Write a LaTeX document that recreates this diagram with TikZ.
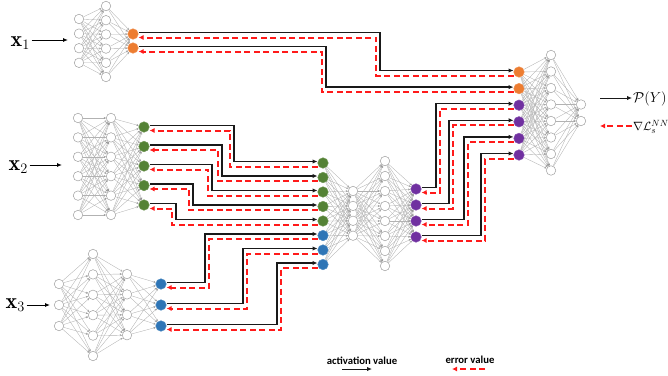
\documentclass[tikz,border=0pt]{standalone}
\usepackage{amsmath}
\usepackage{amssymb}
\usepackage{fontspec}
\newfontfamily\legendfont{Carlito}
\usetikzlibrary{arrows.meta}
\definecolor{nnorange}{HTML}{ED7D31}
\definecolor{nngreen}{HTML}{548235}
\definecolor{nnblue}{HTML}{2E75B6}
\definecolor{nnpurple}{HTML}{7030A0}
\definecolor{errred}{HTML}{FF1A1A}

\begin{document}
\begin{tikzpicture}[x=1pt, y=-1pt,
		neuron/.style={circle, draw=gray!75, fill=white, line width=0.5pt, minimum size=9.5pt, inner sep=0pt},
		ncol/.style={circle, fill=#1, draw=#1!85!white, line width=0.5pt, minimum size=10.5pt, inner sep=0pt},
		syn/.style={draw=gray!60, line width=0.35pt, -{Stealth[length=2.4pt, width=2pt]}},
		feed/.style={draw=black, line width=0.9pt, -{Latex[length=5pt, width=4pt]}},
		act/.style={draw=black!90, line width=1.4pt, -{Latex[length=5pt, width=4.5pt]}},
		err/.style={draw=errred, line width=2pt, dash pattern=on 6pt off 3.5pt, -{Latex[length=5pt, width=5pt]}},
		lbl/.style={anchor=base west, inner sep=1.5pt, font=\fontsize{22}{26}\selectfont},
		legtext/.style={inner sep=1pt, font=\legendfont\bfseries\fontsize{10.7}{12}\selectfont}]
				\useasboundingbox (0,0) rectangle (668,375);
				
				% network of x1
				\foreach \i in {1,...,4} \node[neuron] (A1-\i) at (79,{19+14.6*(\i-1)}) {};
				\foreach \i in {1,...,6} \node[neuron] (A2-\i) at (106,{6+14.2*(\i-1)}) {};
				\foreach \i in {1,2} \node[ncol=nnorange] (A3-\i) at (133,{34+14*(\i-1)}) {};
				\foreach \i in {1,...,4} \foreach \j in {1,...,6} \path[syn] (A1-\i) edge (A2-\j);
				\foreach \i in {1,...,6} \foreach \j in {1,2} \path[syn] (A2-\i) edge (A3-\j);
				
				% network of x2
				\foreach \i in {1,...,6} {
					\node[neuron] (B1-\i) at (78,{118+19.4*(\i-1)}) {};
					\node[neuron] (B2-\i) at (111,{118+19.4*(\i-1)}) {};
				}
				\foreach \i in {1,...,5} \node[ncol=nngreen] (B3-\i) at (144,{127+19.5*(\i-1)}) {};
				\foreach \i in {1,...,6} \foreach \j in {1,...,6} \path[syn] (B1-\i) edge (B2-\j);
				\foreach \i in {1,...,6} \foreach \j in {1,...,5} \path[syn] (B2-\i) edge (B3-\j);
				
				% network of x3
				\foreach \i in {1,2,3} \node[neuron] (C1-\i) at (59,{284+21*(\i-1)}) {};
				\foreach \i in {1,...,6} \node[neuron] (C2-\i) at (93,{254+20.4*(\i-1)}) {};
				\foreach \i in {1,...,4} \node[neuron] (C3-\i) at (127,{274+20.4*(\i-1)}) {};
				\foreach \i in {1,2,3} \node[ncol=nnblue] (C4-\i) at (161,{284+21*(\i-1)}) {};
				\foreach \i in {1,2,3} \foreach \j in {1,...,6} \path[syn] (C1-\i) edge (C2-\j);
				\foreach \i in {1,...,6} \foreach \j in {1,...,4} \path[syn] (C2-\i) edge (C3-\j);
				\foreach \i in {1,...,4} \foreach \j in {1,2,3} \path[syn] (C3-\i) edge (C4-\j);
				
				% joint network
				\foreach \i in {1,...,5} \node[ncol=nngreen] (M1-\i) at (323,{163+14.5*(\i-1)}) {};
				\foreach \i in {6,7,8} \node[ncol=nnblue] (M1-\i) at (323,{163+14.5*(\i-1)}) {};
				\foreach \i in {1,...,4} \node[neuron] (M2-\i) at (353,{191+14.9*(\i-1)}) {};
				\foreach \i in {1,...,8} \node[neuron] (M3-\i) at (385,{161+15*(\i-1)}) {};
				\foreach \i in {1,...,4} \node[ncol=nnpurple] (M4-\i) at (416,{189+16*(\i-1)}) {};
				\foreach \i in {1,...,8} \foreach \j in {1,...,4} \path[syn] (M1-\i) edge (M2-\j);
				\foreach \i in {1,...,4} \foreach \j in {1,...,8} \path[syn] (M2-\i) edge (M3-\j);
				\foreach \i in {1,...,8} \foreach \j in {1,...,4} \path[syn] (M3-\i) edge (M4-\j);
				
				% output network
				\foreach \i in {1,2} \node[ncol=nnorange] (D1-\i) at (519,{72+16.6*(\i-1)}) {};
				\foreach \i in {3,...,6} \node[ncol=nnpurple] (D1-\i) at (519,{72+16.6*(\i-1)}) {};
				\foreach \i in {1,...,8} \node[neuron] (D2-\i) at (551,{55+16.5*(\i-1)}) {};
				\foreach \i in {1,2} \node[neuron] (D3-\i) at (581,{104.5+16.5*(\i-1)}) {};
				\foreach \i in {1,...,6} \foreach \j in {1,...,8} \path[syn] (D1-\i) edge (D2-\j);
				\foreach \i in {1,...,8} \foreach \j in {1,2} \path[syn] (D2-\i) edge (D3-\j);
				
				% inputs
				\node[lbl] (x1) at (9,46) {$\mathbf{x}_1$};
				\node[lbl] (x2) at (7,170) {$\mathbf{x}_2$};
				\node[lbl] (x3) at (4,308) {$\mathbf{x}_3$};
				\coordinate (in1) at (68,40);
				\coordinate (in2) at (62,165);
				\coordinate (in3) at (50,305);
				\draw[feed] (x1.east |- in1) -- (in1);
				\draw[feed] (x2.east |- in2) -- (in2);
				\draw[feed] (x3.east |- in3) -- (in3);
				
				% activations forward, errors back
				\foreach \s/\t/\u/\v/\m in {A3-1/D1-1/380/376/50, A3-2/D1-2/326/322/68,
					B3-1/M1-1/234/230/145, B3-2/M1-2/222/218/160, B3-3/M1-3/212/208/180,
					B3-4/M1-4/193/189/195, B3-5/M1-5/176/172/212,
					C4-1/M1-6/205/209/260, C4-2/M1-7/243/247/280, C4-3/M1-8/277/281/295,
					M4-1/D1-3/436/440/150, M4-2/D1-4/449/453/160, M4-3/D1-5/464/468/180,
					M4-4/D1-6/481/485/195} {
					\draw[act] ([yshift=1.5pt]\s.east) -| (\u,\m) |- ([yshift=1.5pt]\t.west);
					\draw[err] ([yshift=-3.5pt]\t.west) -| (\v,\m) |- ([yshift=-3.5pt]\s.east);
				}
				
				% legend
				\node[anchor=west, inner sep=1pt, font=\fontsize{14}{16}\selectfont] (py) at (632,99) {$\mathcal{P}(Y)$};
				\node[anchor=west, inner sep=1pt, font=\fontsize{13}{15}\selectfont] (gl) at (632,127) {$\nabla\mathcal{L}_s^{NN}$};
				\coordinate (lg1) at (600,98);
				\coordinate (lg2) at (600,126);
				\draw[act, line width=1pt] (lg1) -- (py.west |- lg1);
				\draw[err, line width=1.6pt] (gl.west |- lg2) -- (lg2);
				
				\node[legtext] (av) at (362,361) {activation value};
				\node[legtext] (ev) at (470,360) {error value};
				\coordinate (av1) at (342,369);
				\coordinate (av2) at (372,369);
				\coordinate (ev1) at (485,369);
				\coordinate (ev2) at (452,369);
				\draw[act, line width=1pt] (av1) -- (av2);
				\draw[err, line width=1.6pt] (ev1) -- (ev2);
				\end{tikzpicture}
\end{document}
